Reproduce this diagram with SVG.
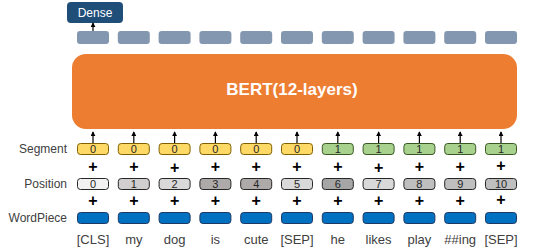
<svg xmlns="http://www.w3.org/2000/svg" width="535" height="252" viewBox="0 0 535 252">
<defs>
<marker id="ah" viewBox="0 0 6 6" refX="5" refY="3" markerWidth="5" markerHeight="5" orient="auto" markerUnits="userSpaceOnUse">
<path d="M0,0 L6,3 L0,6 Z" fill="#000"/>
</marker>
<style>
text{font-family:"Liberation Sans",Arial,sans-serif}
.top{fill:#8497B0}
.seg0{fill:#FFD966;stroke:#7F6000;stroke-width:1}
.seg1{fill:#A9D18E;stroke:#385723;stroke-width:1}
.pos{stroke:#262626;stroke-width:1}
.wp{fill:#0070C0;stroke:#1F3864;stroke-width:1}
.num{font-size:11px;fill:#262626;text-anchor:middle}
.lbl{font-size:12px;fill:#404040;text-anchor:end}
.tok{font-size:13px;fill:#404040;text-anchor:middle}
.plus{font-size:16px;font-weight:bold;fill:#000;text-anchor:middle}
.arr{stroke:#000;stroke-width:1.2;fill:none}
</style>
</defs>
<rect width="535" height="252" fill="#fff"/>

<g id="dense">
<rect x="67" y="2" width="56" height="21" rx="4" fill="#1F4E79"/>
<text x="95" y="17" font-size="12" fill="#fff" text-anchor="middle">Dense</text>
</g>

<g id="outputs">
<rect class="top" x="77" y="31" width="32" height="13" rx="3"/>
<rect class="top" x="117.8" y="31" width="32" height="13" rx="3"/>
<rect class="top" x="158.6" y="31" width="32" height="13" rx="3"/>
<rect class="top" x="199.4" y="31" width="32" height="13" rx="3"/>
<rect class="top" x="240.2" y="31" width="32" height="13" rx="3"/>
<rect class="top" x="281" y="31" width="32" height="13" rx="3"/>
<rect class="top" x="321.8" y="31" width="32" height="13" rx="3"/>
<rect class="top" x="362.6" y="31" width="32" height="13" rx="3"/>
<rect class="top" x="403.4" y="31" width="32" height="13" rx="3"/>
<rect class="top" x="444.2" y="31" width="32" height="13" rx="3"/>
<rect class="top" x="485" y="31" width="32" height="13" rx="3"/>
</g>

<g id="bert">
<rect x="72" y="54" width="445" height="75" rx="14" fill="#ED7D31"/>
<text x="292" y="95" font-size="17" font-weight="bold" fill="#fff" text-anchor="middle">BERT(12-layers)</text>
</g>

<g id="labels">
<text class="lbl" x="67" y="153">Segment</text>
<text class="lbl" x="67" y="188">Position</text>
<text class="lbl" x="67" y="222">WordPiece</text>
</g>

<g id="segment">
<rect class="seg0" x="77.5" y="143.5" width="31" height="11" rx="3"/><text class="num" x="93" y="153">0</text>
<rect class="seg0" x="118.3" y="143.5" width="31" height="11" rx="3"/><text class="num" x="133.8" y="153">0</text>
<rect class="seg0" x="159.1" y="143.5" width="31" height="11" rx="3"/><text class="num" x="174.6" y="153">0</text>
<rect class="seg0" x="199.9" y="143.5" width="31" height="11" rx="3"/><text class="num" x="215.4" y="153">0</text>
<rect class="seg0" x="240.7" y="143.5" width="31" height="11" rx="3"/><text class="num" x="256.2" y="153">0</text>
<rect class="seg0" x="281.5" y="143.5" width="31" height="11" rx="3"/><text class="num" x="297" y="153">0</text>
<rect class="seg1" x="322.3" y="143.5" width="31" height="11" rx="3"/><text class="num" x="337.8" y="153">1</text>
<rect class="seg1" x="363.1" y="143.5" width="31" height="11" rx="3"/><text class="num" x="378.6" y="153">1</text>
<rect class="seg1" x="403.9" y="143.5" width="31" height="11" rx="3"/><text class="num" x="419.4" y="153">1</text>
<rect class="seg1" x="444.7" y="143.5" width="31" height="11" rx="3"/><text class="num" x="460.2" y="153">1</text>
<rect class="seg1" x="485.5" y="143.5" width="31" height="11" rx="3"/><text class="num" x="501" y="153">1</text>
</g>

<g id="position">
<rect class="pos" fill="#F2F2F2" x="77.5" y="178.5" width="31" height="11" rx="3"/><text class="num" x="93" y="188">0</text>
<rect class="pos" fill="#D0CECE" x="118.3" y="178.5" width="31" height="11" rx="3"/><text class="num" x="133.8" y="188">1</text>
<rect class="pos" fill="#D9D9D9" x="159.1" y="178.5" width="31" height="11" rx="3"/><text class="num" x="174.6" y="188">2</text>
<rect class="pos" fill="#AEAAAA" x="199.9" y="178.5" width="31" height="11" rx="3"/><text class="num" x="215.4" y="188">3</text>
<rect class="pos" fill="#AEAAAA" x="240.7" y="178.5" width="31" height="11" rx="3"/><text class="num" x="256.2" y="188">4</text>
<rect class="pos" fill="#D9D9D9" x="281.5" y="178.5" width="31" height="11" rx="3"/><text class="num" x="297" y="188">5</text>
<rect class="pos" fill="#A6A6A6" x="322.3" y="178.5" width="31" height="11" rx="3"/><text class="num" x="337.8" y="188">6</text>
<rect class="pos" fill="#D9D9D9" x="363.1" y="178.5" width="31" height="11" rx="3"/><text class="num" x="378.6" y="188">7</text>
<rect class="pos" fill="#BFBFBF" x="403.9" y="178.5" width="31" height="11" rx="3"/><text class="num" x="419.4" y="188">8</text>
<rect class="pos" fill="#BFBFBF" x="444.7" y="178.5" width="31" height="11" rx="3"/><text class="num" x="460.2" y="188">9</text>
<rect class="pos" fill="#BFBFBF" x="485.5" y="178.5" width="31" height="11" rx="3"/><text class="num" x="501" y="188">10</text>
</g>

<g id="wordpiece">
<rect class="wp" x="77.5" y="212.5" width="31" height="11" rx="3"/>
<rect class="wp" x="118.3" y="212.5" width="31" height="11" rx="3"/>
<rect class="wp" x="159.1" y="212.5" width="31" height="11" rx="3"/>
<rect class="wp" x="199.9" y="212.5" width="31" height="11" rx="3"/>
<rect class="wp" x="240.7" y="212.5" width="31" height="11" rx="3"/>
<rect class="wp" x="281.5" y="212.5" width="31" height="11" rx="3"/>
<rect class="wp" x="322.3" y="212.5" width="31" height="11" rx="3"/>
<rect class="wp" x="363.1" y="212.5" width="31" height="11" rx="3"/>
<rect class="wp" x="403.9" y="212.5" width="31" height="11" rx="3"/>
<rect class="wp" x="444.7" y="212.5" width="31" height="11" rx="3"/>
<rect class="wp" x="485.5" y="212.5" width="31" height="11" rx="3"/>
</g>

<g id="tokens">
<text class="tok" x="93" y="244">[CLS]</text>
<text class="tok" x="133.8" y="244">my</text>
<text class="tok" x="174.6" y="244">dog</text>
<text class="tok" x="215.4" y="244">is</text>
<text class="tok" x="256.2" y="244">cute</text>
<text class="tok" x="297" y="244">[SEP]</text>
<text class="tok" x="337.8" y="244">he</text>
<text class="tok" x="378.6" y="244">likes</text>
<text class="tok" x="419.4" y="244">play</text>
<text class="tok" x="460.2" y="244">##ing</text>
<text class="tok" x="501" y="244">[SEP]</text>
</g>

<g id="plus">
<text class="plus" x="93" y="172">+</text><text class="plus" x="133.8" y="172">+</text><text class="plus" x="174.6" y="173">+</text><text class="plus" x="215.4" y="172">+</text><text class="plus" x="256.2" y="172">+</text><text class="plus" x="297" y="172">+</text><text class="plus" x="337.8" y="172">+</text><text class="plus" x="378.6" y="173">+</text><text class="plus" x="419.4" y="172">+</text><text class="plus" x="460.2" y="172">+</text><text class="plus" x="501" y="171">+</text>
<text class="plus" x="93" y="206">+</text><text class="plus" x="133.8" y="206">+</text><text class="plus" x="174.6" y="206">+</text><text class="plus" x="215.4" y="206">+</text><text class="plus" x="256.2" y="206">+</text><text class="plus" x="297" y="206">+</text><text class="plus" x="337.8" y="206">+</text><text class="plus" x="378.6" y="206">+</text><text class="plus" x="419.4" y="206">+</text><text class="plus" x="460.2" y="206">+</text><text class="plus" x="501" y="205">+</text>
</g>

<g id="connectors">
<line class="arr" x1="93" y1="31" x2="93" y2="23" marker-end="url(#ah)"/>
<line class="arr" x1="93" y1="143" x2="93" y2="132" marker-end="url(#ah)"/>
<line class="arr" x1="133.8" y1="143" x2="133.8" y2="132" marker-end="url(#ah)"/>
<line class="arr" x1="174.6" y1="143" x2="174.6" y2="132" marker-end="url(#ah)"/>
<line class="arr" x1="215.4" y1="143" x2="215.4" y2="132" marker-end="url(#ah)"/>
<line class="arr" x1="256.2" y1="143" x2="256.2" y2="132" marker-end="url(#ah)"/>
<line class="arr" x1="297" y1="143" x2="297" y2="132" marker-end="url(#ah)"/>
<line class="arr" x1="337.8" y1="143" x2="337.8" y2="132" marker-end="url(#ah)"/>
<line class="arr" x1="378.6" y1="143" x2="378.6" y2="132" marker-end="url(#ah)"/>
<line class="arr" x1="419.4" y1="143" x2="419.4" y2="132" marker-end="url(#ah)"/>
<line class="arr" x1="460.2" y1="143" x2="460.2" y2="132" marker-end="url(#ah)"/>
<line class="arr" x1="501" y1="143" x2="501" y2="132" marker-end="url(#ah)"/>
</g>
</svg>
